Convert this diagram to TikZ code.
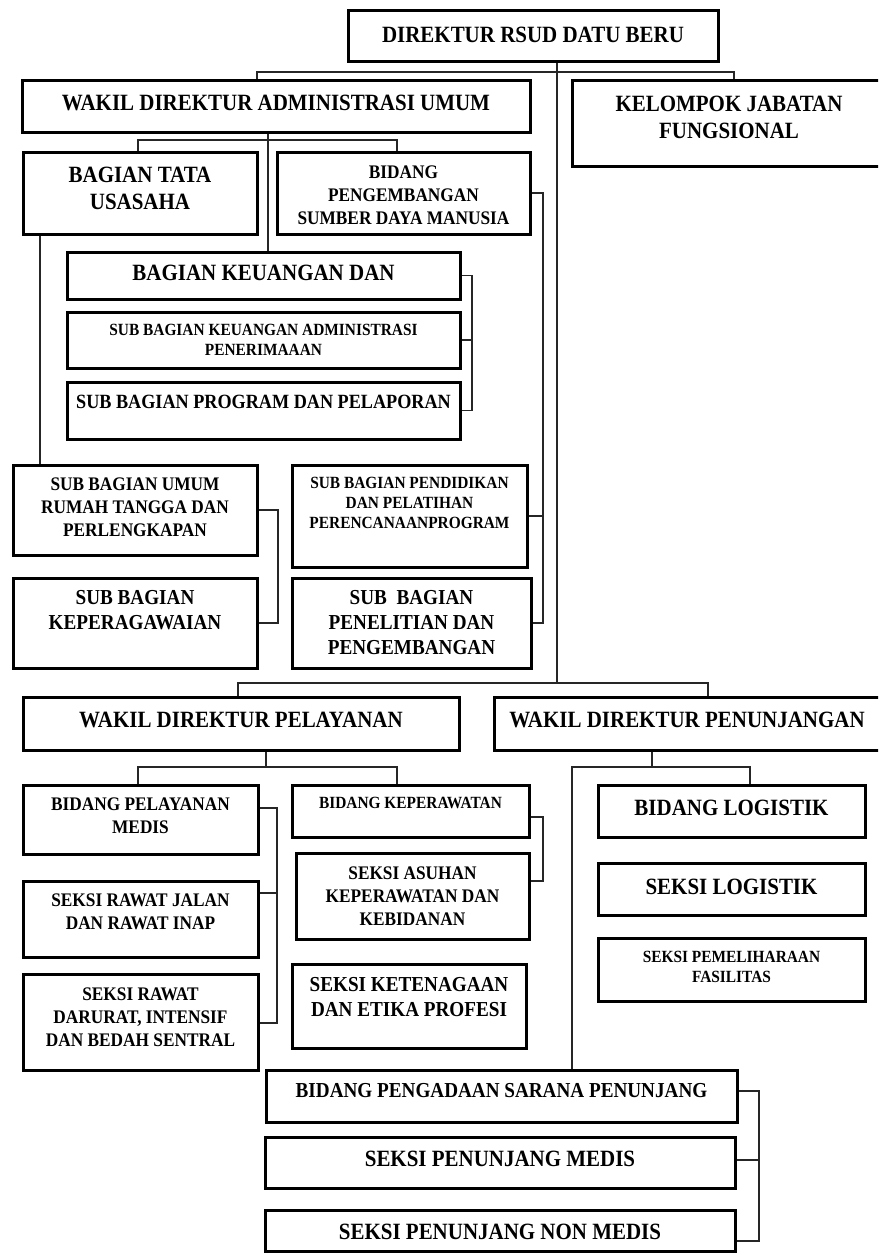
\documentclass[tikz,border=0pt]{standalone}
\usepackage{fontspec}
\setmainfont{Liberation Serif}[FakeStretch=0.9]
\usepackage{tikz}
\usetikzlibrary{positioning,calc}
\tikzset{
    orgbox/.style = {draw=black, line width=3pt, inner sep=0pt},
    conn/.style   = {draw=black!85, line width=1.2pt},
    fA/.style     = {font=\fontsize{23.3}{27}\selectfont\bfseries, align=center, inner sep=0pt},
    fB/.style     = {font=\fontsize{21.3}{25}\selectfont\bfseries, align=center, inner sep=0pt},
    fC/.style     = {font=\fontsize{19.2}{23}\selectfont\bfseries, align=center, inner sep=0pt},
    fD/.style     = {font=\fontsize{17.1}{20}\selectfont\bfseries, align=center, inner sep=0pt},
}
\newcommand{\OrgBox}[8]{% name, x0, y0, x1, y1, text y, style, text
    \node[orgbox, minimum width=#4pt-#2pt, minimum height=#5pt-#3pt] (#1) at ({(#2+#4)/2},{(#3+#5)/2}) {};
    \node[#7] (#1-t) at ({(#2+#4)/2},#6) {#8};
}
\begin{document}
\begin{tikzpicture}[x=1pt,y=-1pt]
    \useasboundingbox (0,0) rectangle (878,1255);
    \clip (0,0) rectangle (878,1255);

    % top level
    \OrgBox{dir}{348}{11}{718}{62}{35}{fA}{DIREKTUR RSUD DATU BERU}
    \OrgBox{wadm}{22}{80}{530}{132}{103}{fA}{WAKIL DIREKTUR ADMINISTRASI UMUM}
    \OrgBox{kjf}{572}{80}{886}{166}{117}{fA}{KELOMPOK JABATAN\\FUNGSIONAL}

    % administrasi umum
    \OrgBox{tata}{23}{152}{257}{234}{188}{fA}{BAGIAN TATA\\USASAHA}
    \OrgBox{bpsdm}{277}{152}{530}{234}{195}{fC}{BIDANG\\PENGEMBANGAN\\SUMBER DAYA MANUSIA}
    \OrgBox{keu}{67}{252}{460}{299}{273}{fA}{BAGIAN KEUANGAN DAN}
    \OrgBox{sbkeu}{67}{312}{460}{368}{340}{fD}{SUB BAGIAN KEUANGAN ADMINISTRASI\\PENERIMAAAN}
    \OrgBox{prog}{67}{382}{460}{439}{402}{fB,font=\fontsize{20.2}{23}\selectfont\bfseries}{SUB BAGIAN PROGRAM DAN PELAPORAN}
    \OrgBox{umum}{13}{465}{257}{555}{507}{fC}{SUB BAGIAN UMUM\\RUMAH TANGGA DAN\\PERLENGKAPAN}
    \OrgBox{kpg}{13}{578}{257}{668}{610}{fB}{SUB BAGIAN\\KEPERAGAWAIAN}
    \OrgBox{pdd}{292}{465}{527}{567}{503}{fD}{SUB BAGIAN PENDIDIKAN\\DAN PELATIHAN\\PERENCANAANPROGRAM}
    \OrgBox{pen}{292}{578}{531}{668}{623}{fB}{SUB\ \ BAGIAN\\PENELITIAN DAN\\PENGEMBANGAN}

    % wakil direktur pelayanan / penunjangan
    \OrgBox{wpel}{23}{697}{459}{750}{720}{fA}{WAKIL DIREKTUR PELAYANAN}
    \OrgBox{wpen}{494}{697}{880}{750}{720}{fA}{WAKIL DIREKTUR PENUNJANGAN}
    \OrgBox{bpm}{23}{785}{258}{854}{816}{fC}{BIDANG PELAYANAN\\MEDIS}
    \OrgBox{bkep}{292}{785}{529}{837}{803}{fD}{BIDANG KEPERAWATAN}
    \OrgBox{rjal}{23}{881}{258}{957}{912}{fC}{SEKSI RAWAT JALAN\\DAN RAWAT INAP}
    \OrgBox{rdar}{23}{974}{258}{1070}{1017}{fC}{SEKSI RAWAT\\DARURAT, INTENSIF\\DAN BEDAH SENTRAL}
    \OrgBox{asuh}{296}{853}{529}{939}{896}{fC}{SEKSI ASUHAN\\KEPERAWATAN DAN\\KEBIDANAN}
    \OrgBox{ket}{292}{964}{526}{1048}{997}{fB}{SEKSI KETENAGAAN\\DAN ETIKA PROFESI}
    \OrgBox{blog}{598}{785}{865}{837}{808}{fA}{BIDANG LOGISTIK}
    \OrgBox{slog}{598}{863}{865}{915}{887}{fA}{SEKSI LOGISTIK}
    \OrgBox{peml}{598}{938}{865}{1001}{967}{fD}{SEKSI PEMELIHARAAN\\FASILITAS}
    \OrgBox{bpsp}{266}{1070}{737}{1122}{1091}{fB}{BIDANG PENGADAAN SARANA PENUNJANG}
    \OrgBox{spm}{265}{1137}{735}{1188}{1159}{fA}{SEKSI PENUNJANG MEDIS}
    \OrgBox{spnm}{265}{1210}{735}{1251}{1232}{fA}{SEKSI PENUNJANG NON MEDIS}

    % connectors, top
    \coordinate (tr) at (557,683);
    \coordinate (j1) at (257,72);
    \coordinate (j2) at (734,72);
    \draw[conn] (dir.south -| tr) -- (tr);
    \draw[conn] (wadm.north -| j1) |- (j2) -- (kjf.north -| j2);

    % connectors, administrasi umum
    \coordinate (a0) at (268,140);
    \coordinate (a1) at (138,140);
    \coordinate (a2) at (397,140);
    \coordinate (a3) at (40,0);
    \draw[conn] (wadm.south -| a0) -- (keu.north -| a0);
    \draw[conn] (tata.north -| a1) |- (a2) -- (bpsdm.north -| a2);
    \draw[conn] (tata.south -| a3) -- (umum.north -| a3);
    \coordinate (bx) at (543,0);
    \draw[conn] (bpsdm.east) -| (bx |- pen.east) -- (pen.east);
    \draw[conn] (pdd.east) -- (bx |- pdd.east);
    \coordinate (kx) at (472,0);
    \draw[conn] (keu.east) -| (kx |- prog.east) -- (prog.east);
    \draw[conn] (sbkeu.east) -- (kx |- sbkeu.east);
    \coordinate (ux) at (278,0);
    \draw[conn] (umum.east) -| (ux |- kpg.east) -- (kpg.east);

    % connectors, pelayanan
    \coordinate (p1) at (238,683);
    \coordinate (p2) at (708,683);
    \draw[conn] (wpel.north -| p1) |- (p2) -- (wpen.north -| p2);
    \coordinate (q0) at (266,767);
    \coordinate (q1) at (138,767);
    \coordinate (q2) at (397,767);
    \draw[conn] (wpel.south -| q0) -- (q0);
    \draw[conn] (bpm.north -| q1) |- (q2) -- (bkep.north -| q2);
    \coordinate (m1) at (277,808);
    \coordinate (m2) at (277,893);
    \coordinate (m3) at (277,1023);
    \draw[conn] (bpm.east |- m1) -- (m1) -- (m3) -- (rdar.east |- m3);
    \draw[conn] (rjal.east |- m2) -- (m2);
    \coordinate (n1) at (543,817);
    \coordinate (n2) at (543,881);
    \draw[conn] (bkep.east |- n1) -- (n1) -- (n2) -- (asuh.east |- n2);

    % connectors, penunjangan
    \coordinate (r0) at (652,767);
    \coordinate (r1) at (572,767);
    \coordinate (r2) at (750,767);
    \draw[conn] (wpen.south -| r0) -- (r0);
    \draw[conn] (bpsp.north -| r1) |- (r2) -- (blog.north -| r2);
    \coordinate (s1) at (759,1091);
    \coordinate (s2) at (759,1160);
    \coordinate (s3) at (759,1241);
    \draw[conn] (bpsp.east |- s1) -- (s1) -- (s3) -- (spnm.east |- s3);
    \draw[conn] (spm.east |- s2) -- (s2);
\end{tikzpicture}
\end{document}
